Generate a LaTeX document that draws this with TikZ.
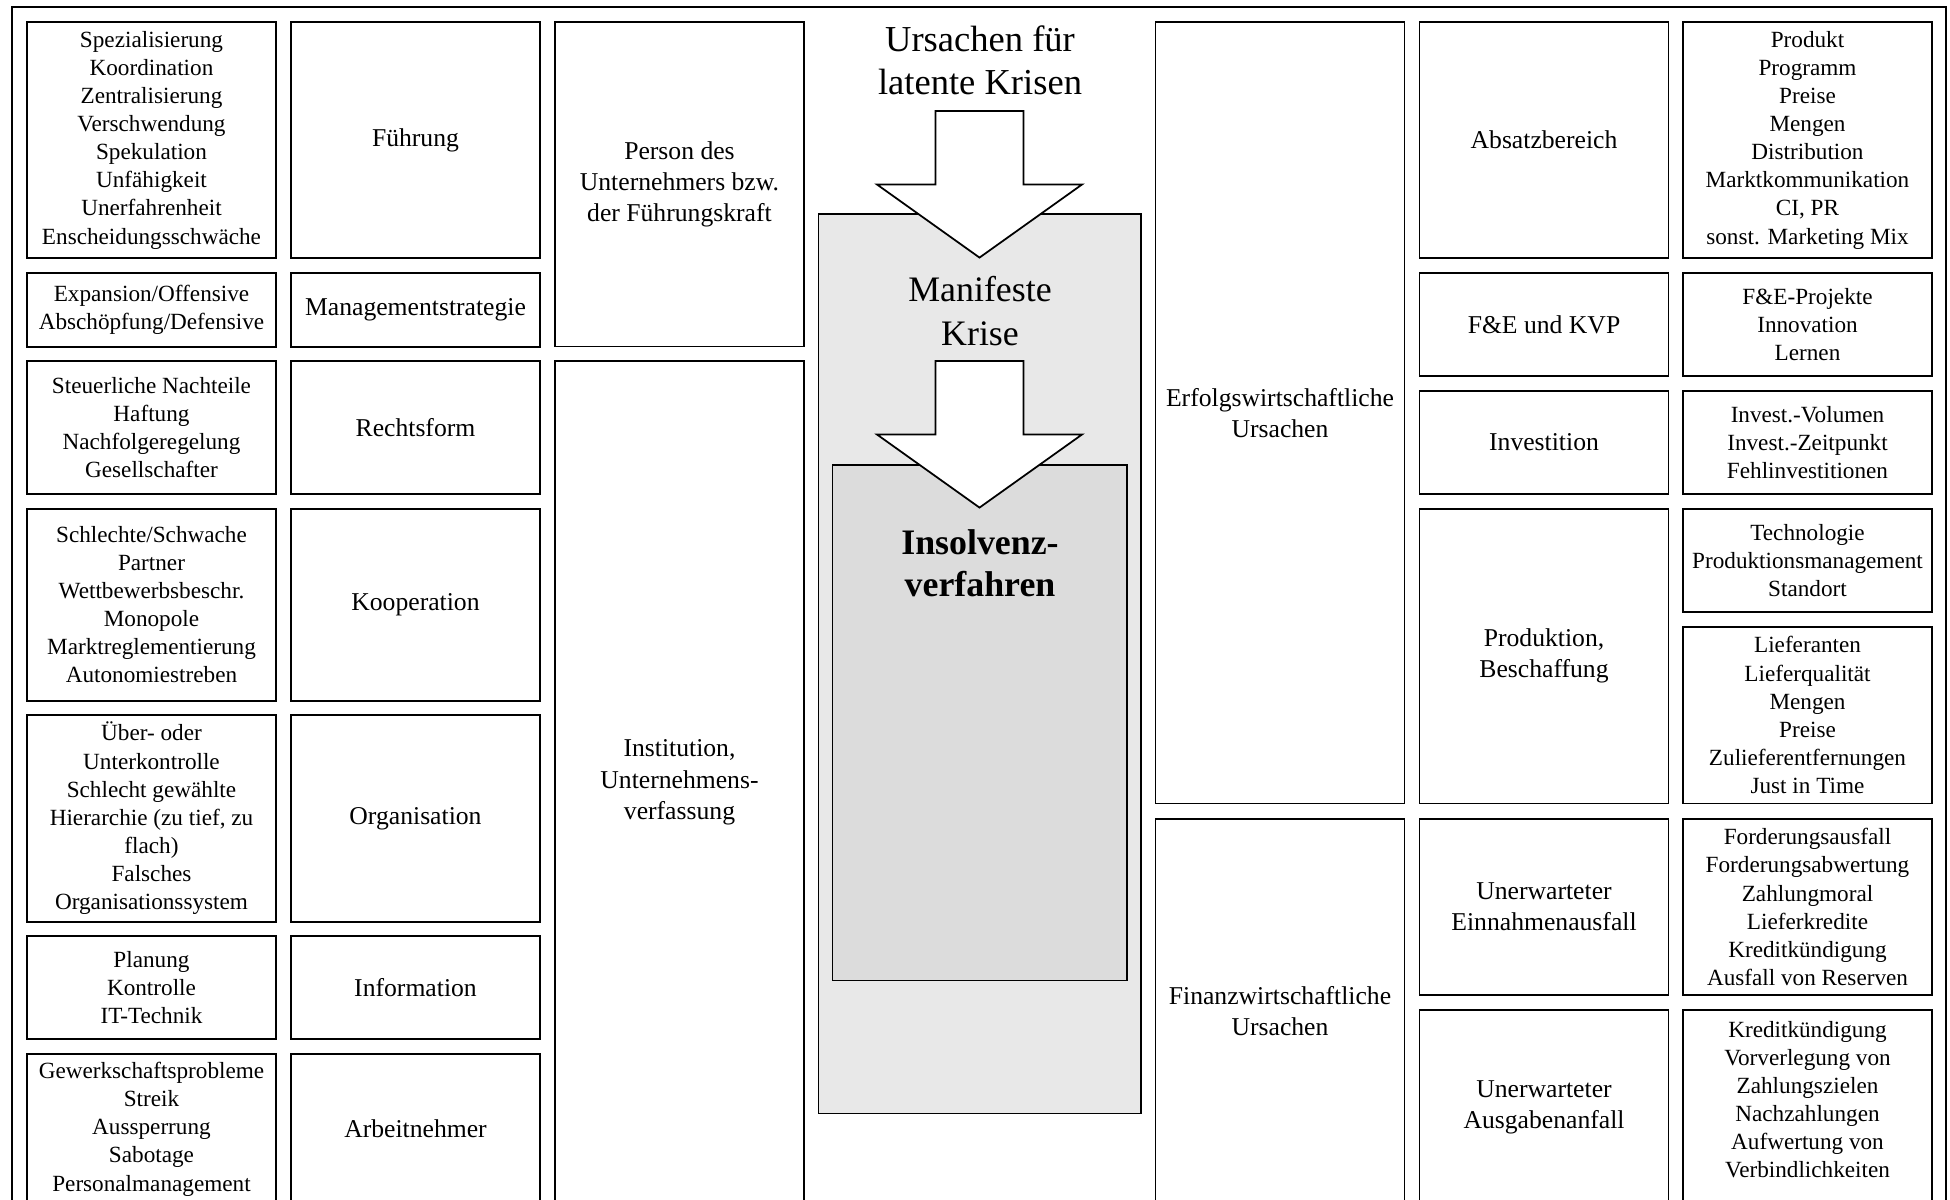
\documentclass[tikz,border=0pt]{standalone}
\usepackage{fontspec}
\setmainfont{Liberation Serif}
\usetikzlibrary{positioning}
\definecolor{crisislight}{RGB}{232,232,232}
\definecolor{crisisdark}{RGB}{220,220,220}

\begin{document}
\begin{tikzpicture}[x=0.1mm, y=-0.1mm,
    box/.style={rectangle, draw, line width=0.5pt, inner sep=0pt, outer sep=0pt, align=center,
        anchor=north west, minimum width=24.9mm},
    detail/.style={box, font=\fontsize{6.6}{8}\selectfont},
    cause/.style={box, font=\fontsize{7.3}{8.9}\selectfont},
    crisis/.style={rectangle, draw, line width=0.5pt, inner sep=0pt, outer sep=0pt, anchor=north west},
    bigarrow/.style={draw, fill=white, line width=0.5pt, line join=miter}
]
\clip[use as bounding box] (0,0) rectangle (1950,1200);

% Frame
\draw[line width=0.5pt] (12,7) rectangle (1946,1215);

% Left side: details
\node[detail, minimum height=23.63mm] (leaddet) at (27,22) {Spezialisierung\\Koordination\\Zentralisierung\\Verschwendung\\Spekulation\\Unfähigkeit\\Unerfahrenheit\\Enscheidungsschwäche};
\node[detail, minimum height=7.4mm] (stratdet) at (27,272.7) {Expansion/Offensive\\Abschöpfung/Defensive};
\node[detail, minimum height=13.3mm] (legaldet) at (27,361) {Steuerliche Nachteile\\Haftung\\Nachfolgeregelung\\Gesellschafter};
\node[detail, minimum height=19.2mm] (coopdet) at (27,508.7) {Schlechte/Schwache\\Partner\\Wettbewerbsbeschr.\\Monopole\\Marktreglementierung\\Autonomiestreben};
\node[detail, minimum height=20.67mm] (orgdet) at (27,715) {Über- oder\\Unterkontrolle\\Schlecht gewählte\\Hierarchie (zu tief, zu\\flach)\\Falsches\\Organisationssystem};
\node[detail, minimum height=10.33mm] (infodet) at (27,936) {Planung\\Kontrolle\\IT-Technik};
\node[detail, minimum height=14.97mm] (staffdet) at (27,1054.3) {Gewerkschaftsprobleme\\Streik\\Aussperrung\\Sabotage\\Personalmanagement};

% Left side: areas
\node[cause, minimum height=23.63mm] (lead) at (291,22) {Führung};
\node[cause, minimum height=7.4mm] (strat) at (291,272.7) {Managementstrategie};
\node[cause, minimum height=13.3mm] (legal) at (291,361) {Rechtsform};
\node[cause, minimum height=19.2mm] (coop) at (291,508.7) {Kooperation};
\node[cause, minimum height=20.67mm] (org) at (291,715) {Organisation};
\node[cause, minimum height=10.33mm] (info) at (291,936) {Information};
\node[cause, minimum height=14.97mm] (staff) at (291,1054.3) {Arbeitnehmer};

% Left side: groups
\node[cause, minimum height=32.44mm] (person) at (555,22) {Person des\\Unternehmers bzw.\\der Führungskraft};
\node[cause, minimum height=84.3mm] (inst) at (555,361) {Institution,\\Unternehmens-\\verfassung};

% Crisis stages
\node[font=\fontsize{10.4}{12.3}\selectfont, align=center, inner sep=0pt] (latent) at (980,60) {Ursachen für\\latente Krisen};
\node[crisis, fill=crisislight, minimum width=32.26mm, minimum height=89.93mm] (manifest) at (818.4,214.3) {};
\node[crisis, fill=crisisdark, minimum width=29.42mm, minimum height=51.54mm] (insolv) at (832.6,465) {};
\foreach \ytop in {111,361}
  \draw[bigarrow] (935.5,\ytop) -- ++(88,0) -- ++(0,73.5) -- ++(58.5,0)
    -- ++(-102.5,73.1) -- ++(-102.5,-73.1) -- ++(58.5,0) -- cycle;
\node[font=\fontsize{10.2}{12.3}\selectfont, align=center, inner sep=0pt] (manifesttxt) at (980,311) {Manifeste\\Krise};
\node[font=\fontsize{10.2}{12}\selectfont\bfseries, align=center, inner sep=0pt] (insolvtxt) at (980,563) {Insolvenz-\\verfahren};

% Right side: groups
\node[cause, minimum height=78.16mm] (success) at (1155.5,22) {Erfolgswirtschaftliche\\Ursachen};
\node[cause, minimum height=38.53mm] (finance) at (1155.5,818.7) {Finanzwirtschaftliche\\Ursachen};

% Right side: areas
\node[cause, minimum height=23.63mm] (sales) at (1419.5,22) {Absatzbereich};
\node[cause, minimum height=10.33mm] (rnd) at (1419.5,272.7) {F\&E und KVP};
\node[cause, minimum height=10.33mm] (invest) at (1419.5,390.7) {Investition};
\node[cause, minimum height=29.49mm] (prod) at (1419.5,508.7) {Produktion,\\Beschaffung};
\node[cause, minimum height=17.66mm] (income) at (1419.5,818.7) {Unerwarteter\\Einnahmenausfall};
\node[cause, minimum height=19.4mm] (expense) at (1419.5,1010) {Unerwarteter\\Ausgabenanfall};

% Right side: details
\node[detail, minimum height=23.63mm] (salesdet) at (1683,22) {Produkt\\Programm\\Preise\\Mengen\\Distribution\\Marktkommunikation\\CI, PR\\sonst. Marketing Mix};
\node[detail, minimum height=10.33mm] (rnddet) at (1683,272.7) {F\&E-Projekte\\Innovation\\Lernen};
\node[detail, minimum height=10.33mm] (investdet) at (1683,390.7) {Invest.-Volumen\\Invest.-Zeitpunkt\\Fehlinvestitionen};
\node[detail, minimum height=10.33mm] (techdet) at (1683,508.7) {Technologie\\Produktionsmanagement\\Standort};
\node[detail, minimum height=17.69mm] (supplydet) at (1683,626.7) {Lieferanten\\Lieferqualität\\Mengen\\Preise\\Zulieferentfernungen\\Just in Time};
\node[detail, minimum height=17.66mm] (incomedet) at (1683,818.7) {Forderungsausfall\\Forderungsabwertung\\Zahlungmoral\\Lieferkredite\\Kreditkündigung\\Ausfall von Reserven};
\node[detail, minimum height=19.4mm] (expensedet) at (1683,1010) {};
\node[font=\fontsize{6.6}{8}\selectfont, align=center, inner sep=0pt, below=1.03mm of expensedet.north] (expensetxt) {Kreditkündigung\\Vorverlegung von\\Zahlungszielen\\Nachzahlungen\\Aufwertung von\\Verbindlichkeiten};
\end{tikzpicture}
\end{document}
